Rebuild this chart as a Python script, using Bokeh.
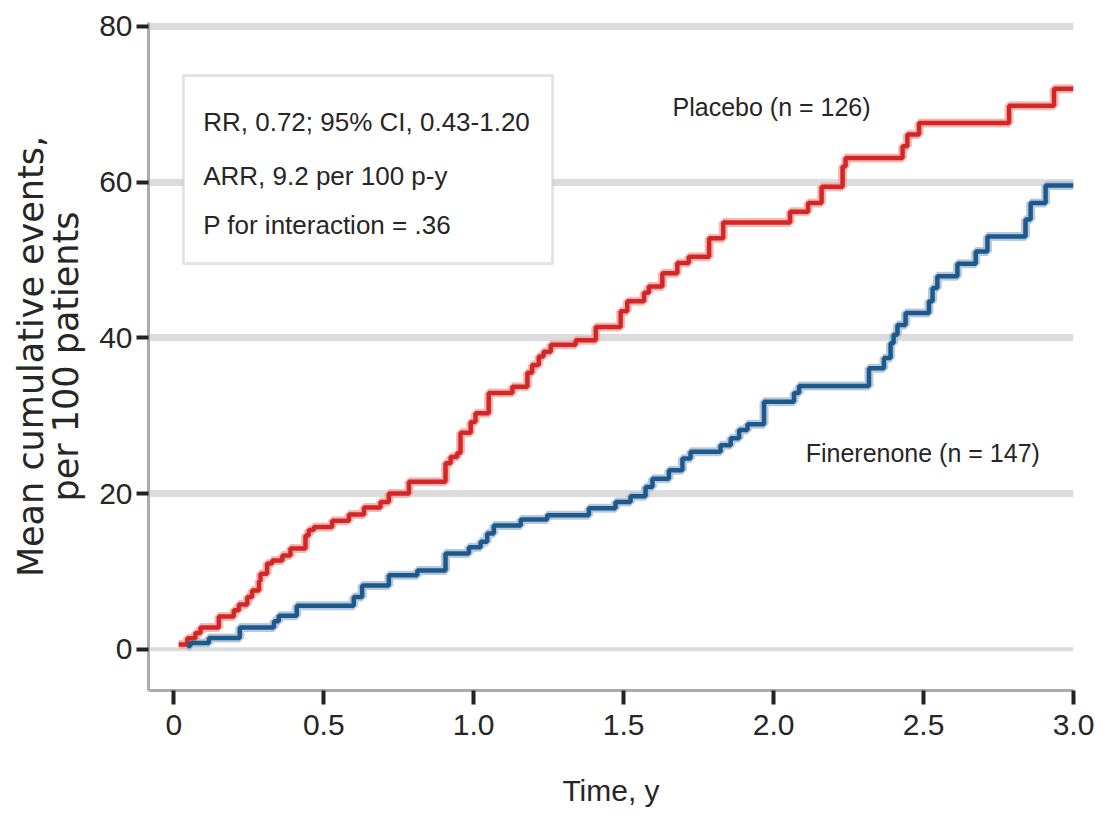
from bokeh.plotting import figure
from bokeh.models import FixedTicker, Label, Span, BoxAnnotation, Range1d, LinearAxis
from bokeh.embed import file_html
from bokeh.resources import INLINE

# ---- data ----
placebo_t = [0.016, 0.045, 0.072, 0.089, 0.150, 0.200, 0.217, 0.245, 0.261, 0.284, 0.289, 0.311,
             0.328, 0.362, 0.389, 0.439, 0.450, 0.467, 0.528, 0.584, 0.634, 0.689, 0.717, 0.784,
             0.906, 0.923, 0.945, 0.956, 0.990, 1.006, 1.050, 1.129, 1.179, 1.195, 1.217, 1.233,
             1.257, 1.340, 1.407, 1.490, 1.512, 1.568, 1.584, 1.629, 1.679, 1.717, 1.785, 1.832,
             2.055, 2.115, 2.160, 2.230, 2.240, 2.430, 2.446, 2.485, 2.785, 2.935, 3.000]
placebo_v = [0.6, 1.4, 2.1, 2.8, 4.2, 5.0, 5.75, 6.7, 7.55, 8.75, 9.7, 11.0,
             11.4, 12.05, 12.95, 14.6, 15.3, 15.7, 16.5, 17.3, 18.2, 18.9, 20.0, 21.5,
             23.9, 24.7, 25.2, 27.8, 29.2, 30.3, 32.9, 33.7, 35.5, 36.5, 37.6, 38.2,
             39.1, 39.7, 41.4, 43.4, 44.7, 45.8, 46.6, 48.3, 49.6, 50.4, 52.8, 54.8,
             56.2, 57.3, 59.4, 62.0, 63.1, 64.6, 66.1, 67.6, 69.8, 72.0, 72.0]

finerenone_t = [0.045, 0.055, 0.117, 0.220, 0.334, 0.350, 0.410, 0.600, 0.628, 0.717, 0.812,
                0.906, 0.984, 1.023, 1.045, 1.067, 1.157, 1.245, 1.384, 1.473, 1.523, 1.573,
                1.596, 1.651, 1.696, 1.723, 1.823, 1.857, 1.885, 1.913, 1.968, 2.068, 2.085,
                2.318, 2.368, 2.390, 2.400, 2.413, 2.440, 2.518, 2.530, 2.546, 2.613, 2.674,
                2.713, 2.840, 2.857, 2.907, 3.000]
finerenone_v = [0.4, 0.8, 1.45, 2.8, 3.6, 4.3, 5.6, 6.7, 8.2, 9.5, 10.1,
                12.3, 13.1, 13.8, 14.85, 15.9, 16.65, 17.2, 18.1, 18.9, 19.65, 20.85,
                21.9, 23.0, 24.5, 25.35, 26.2, 27.1, 28.15, 28.9, 31.8, 32.9, 33.8,
                36.1, 37.4, 39.3, 40.4, 41.65, 43.2, 44.7, 46.4, 47.9, 49.5, 51.1,
                53.0, 55.2, 57.3, 59.55, 59.55]

x_ticks = [0, 0.5, 1.0, 1.5, 2.0, 2.5, 3.0]
x_tick_labels = ["0", "0.5", "1.0", "1.5", "2.0", "2.5", "3.0"]
y_ticks = [0, 20, 40, 60, 80]
y_title_lines = ["Mean cumulative events,", "per 100 patients"]
x_title = "Time, y"
stats_lines = ["RR, 0.72; 95% CI, 0.43-1.20", "ARR, 9.2 per 100 p-y", "P for interaction = .36"]
series_labels = ["Placebo (n = 126)", "Finerenone (n = 147)"]

SANS = "Liberation Sans"
YFONT = "DejaVu Sans"
RED, RED_LIGHT = "#d42629", "#eeaaa0"
BLUE, BLUE_LIGHT = "#1d5a8c", "#a9bad4"
TXT = "#262626"

p = figure(width=1103, height=818,
           x_range=Range1d(-0.0844, 3.0), y_range=Range1d(-5.3, 80.5),
           output_backend="svg", toolbar_location=None,
           min_border_left=148, min_border_right=30, min_border_top=22, min_border_bottom=128)
p.outline_line_color = None
p.background_fill_color = "white"

# grid
p.xgrid.visible = False
p.ygrid.ticker = FixedTicker(ticks=y_ticks[1:])
p.ygrid.grid_line_color = "#dcdcde"
p.ygrid.grid_line_width = 7
p.add_layout(Span(location=y_ticks[0], dimension="width", line_color="#dcdcde",
                  line_width=4, level="underlay"))

# axes
for ax in (p.xaxis[0], p.yaxis[0]):
    ax.axis_line_color = "#ababab"
    ax.axis_line_width = 3
    ax.major_tick_line_color = "#222222"
    ax.major_tick_line_width = 4
    ax.major_tick_in = 0
    ax.minor_tick_line_color = None
    ax.major_label_text_font = SANS
    ax.major_label_text_color = TXT
    ax.major_label_text_font_size = "30px"

p.xaxis.ticker = FixedTicker(ticks=x_ticks)
p.xaxis.major_label_overrides = {t: l for t, l in zip(x_ticks, x_tick_labels)}
p.xaxis.major_tick_out = 14
p.xaxis.major_label_standoff = 10
p.xaxis.axis_label = x_title
p.xaxis.axis_label_text_font = SANS
p.xaxis.axis_label_text_font_style = "normal"
p.xaxis.axis_label_text_font_size = "30px"
p.xaxis.axis_label_text_color = TXT
p.xaxis.axis_label_standoff = 36

p.yaxis.ticker = FixedTicker(ticks=y_ticks)
p.yaxis.major_tick_out = 12
p.yaxis.major_label_standoff = 4
# second line of the y title sits on the main axis
p.yaxis.axis_label = y_title_lines[1]
p.yaxis.axis_label_text_font = YFONT
p.yaxis.axis_label_text_font_style = "normal"
p.yaxis.axis_label_text_font_size = "35px"
p.yaxis.axis_label_text_color = TXT
p.yaxis.axis_label_standoff = 10

# first line of the y title on a bare outer axis
outer = LinearAxis(ticker=FixedTicker(ticks=[]), axis_line_color=None,
                   major_tick_line_color=None, minor_tick_line_color=None,
                   major_label_text_font_size="0px",
                   axis_label=y_title_lines[0], axis_label_text_font=YFONT,
                   axis_label_text_font_style="normal", axis_label_text_font_size="35px",
                   axis_label_text_color=TXT, axis_label_standoff=-7)
p.add_layout(outer, "left")

# curves
p.step(placebo_t, placebo_v, mode="after", line_color=RED_LIGHT, line_width=9, line_alpha=0.8)
p.step(finerenone_t, finerenone_v, mode="after", line_color=BLUE_LIGHT, line_width=9, line_alpha=0.8)
p.step(placebo_t, placebo_v, mode="after", line_color=RED, line_width=4.5)
p.step(finerenone_t, finerenone_v, mode="after", line_color=BLUE, line_width=4.5)

# stats box
p.add_layout(BoxAnnotation(left=0.032, right=1.263, bottom=49.5, top=73.7,
                           fill_color="white", fill_alpha=1.0,
                           line_color="#a3a3a3", line_width=3))
for txt, yy in zip(stats_lines, [67.7, 60.8, 54.5]):
    p.add_layout(Label(x=0.098, y=yy, text=txt, text_font=SANS, text_font_size="26px",
                       text_color=TXT, text_baseline="alphabetic", text_align="left"))

p.add_layout(Label(x=1.663, y=69.6, text=series_labels[0], text_font=SANS, text_font_size="25px",
                   text_color=TXT, text_baseline="alphabetic"))
p.add_layout(Label(x=2.107, y=25.2, text=series_labels[1], text_font=SANS, text_font_size="25px",
                   text_color=TXT, text_baseline="alphabetic"))

open("out.html", "w").write(file_html(p, INLINE))
